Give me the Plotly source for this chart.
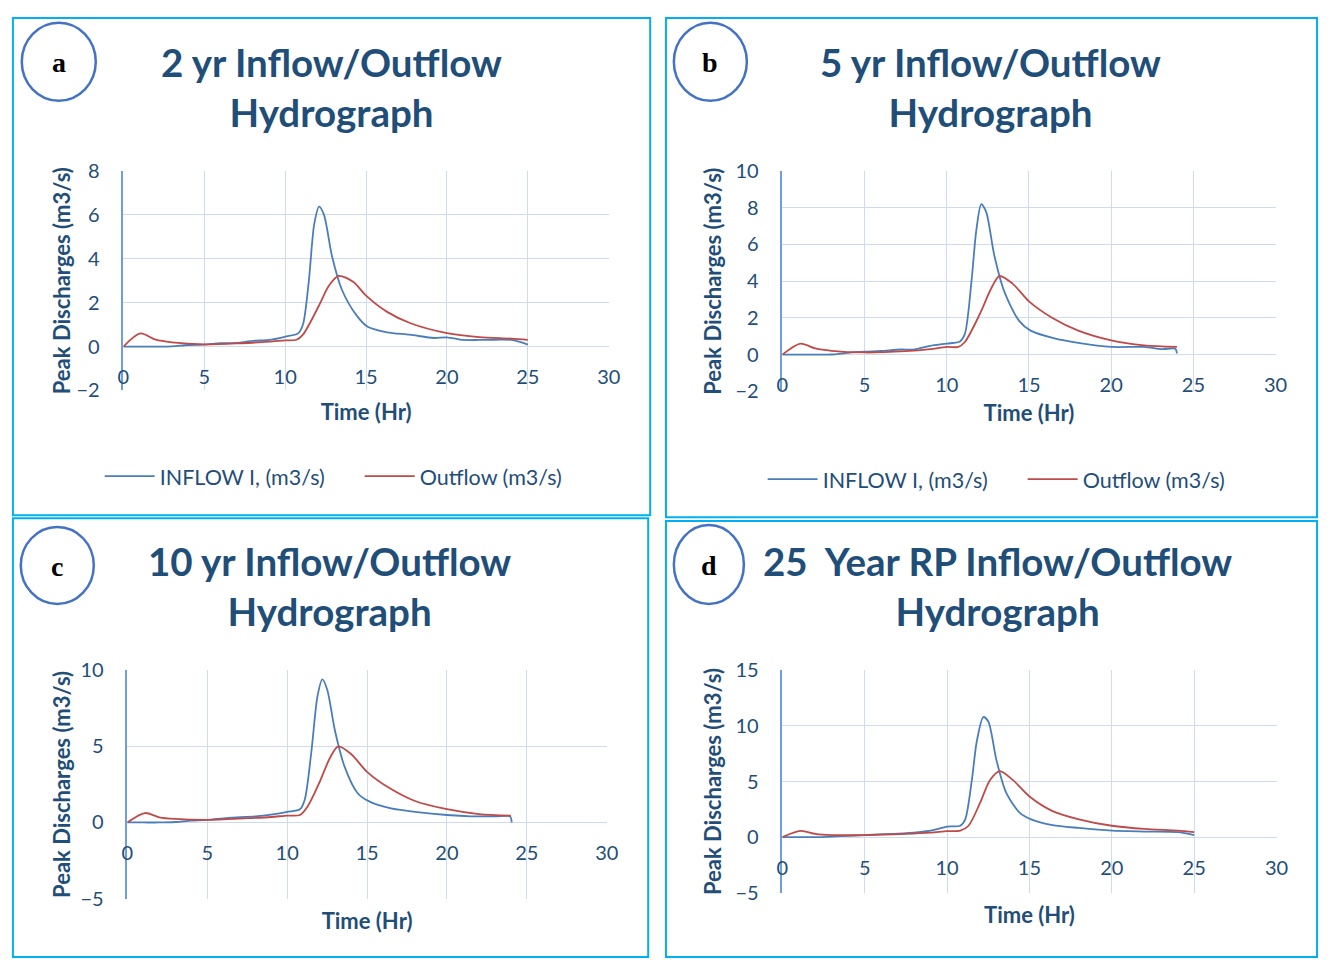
import plotly.graph_objects as go

# ---- hydrograph data (time in hours, discharge in m3/s) ----
T2_IN = [0, 1, 2, 3, 4, 5, 6, 7, 8, 9, 10, 10.8, 11.1, 11.45, 11.8, 12.1, 12.4, 12.9, 13.5, 14.4,
         15.1, 16.3, 17.7, 19.2, 20, 21, 22, 23, 24, 25]
Q2_IN = [0, 0, 0, 0.01, 0.07, 0.09, 0.15, 0.17, 0.26, 0.3, 0.45, 0.6, 1.0, 2.9, 5.6, 6.38, 6.0, 4.1,
         2.6, 1.43, 0.9, 0.65, 0.54, 0.39, 0.42, 0.3, 0.3, 0.31, 0.3, 0.09]
T2_OUT = [0, 1.05, 2, 3, 5, 7.25, 9, 10, 10.7, 11.1, 12.1, 12.7, 13.3, 14.2, 15, 16.3, 17.75, 20, 22, 24, 25]
Q2_OUT = [0, 0.6, 0.31, 0.19, 0.1, 0.15, 0.22, 0.28, 0.31, 0.54, 1.88, 2.77, 3.22, 2.95, 2.32, 1.58,
          1.06, 0.61, 0.43, 0.36, 0.3]

T5_IN = [0, 1, 2, 3, 4, 5, 6, 7.2, 8, 9, 10, 10.8, 11.1, 11.5, 11.8, 12.1, 12.4, 12.9, 13.5, 14.4,
         15.1, 16.5, 18, 20, 22, 23.1, 23.9, 24]
Q5_IN = [0, 0, 0, 0.01, 0.1, 0.16, 0.2, 0.28, 0.28, 0.48, 0.6, 0.72, 1.13, 3.96, 6.8, 8.2, 7.76, 5.37,
         3.43, 1.84, 1.31, 0.9, 0.64, 0.42, 0.42, 0.3, 0.32, 0.07]
T5_OUT = [0, 1.1, 2, 3, 5, 7.5, 9, 10, 10.7, 11.1, 12, 12.7, 13.2, 14, 15, 16.4, 18, 20, 22, 24]
Q5_OUT = [0, 0.6, 0.34, 0.21, 0.12, 0.19, 0.3, 0.42, 0.42, 0.69, 2.19, 3.6, 4.28, 3.87, 2.9, 2.01,
          1.31, 0.78, 0.51, 0.42]

T10_IN = [0, 1, 2, 3, 4, 5, 6.3, 8, 9, 10, 10.8, 11.1, 11.5, 11.9, 12.2, 12.5, 13, 13.6, 14.4, 15.1,
          16.5, 18, 20, 21.5, 23, 23.95, 24.05]
Q10_IN = [0, 0, 0, 0.03, 0.12, 0.17, 0.3, 0.4, 0.52, 0.7, 0.87, 1.5, 4.5, 8.3, 9.4, 8.76, 6.0, 3.65,
          1.94, 1.4, 0.92, 0.7, 0.49, 0.4, 0.4, 0.4, 0.0]
T10_OUT = [0, 1.1, 2, 3, 5, 7.5, 9, 10, 10.8, 11.3, 12, 12.7, 13.2, 14, 15, 16.4, 18, 20, 22, 24]
Q10_OUT = [0, 0.62, 0.34, 0.23, 0.17, 0.28, 0.36, 0.45, 0.49, 1.09, 2.58, 4.29, 5.0, 4.5, 3.33, 2.26,
           1.41, 0.87, 0.55, 0.45]

T25_IN = [0, 1, 2, 3, 4, 5, 7.5, 9, 10, 10.8, 11.1, 11.5, 11.8, 12.2, 12.5, 13, 13.6, 14.4, 15.1,
          16.4, 18, 20, 22, 24, 25]
Q25_IN = [0, 0, 0, 0.05, 0.12, 0.18, 0.35, 0.58, 0.94, 1.02, 1.6, 5.1, 8.6, 10.8, 10.4, 6.9, 3.95,
          2.2, 1.6, 1.08, 0.82, 0.58, 0.5, 0.44, 0.18]
T25_OUT = [0, 1.1, 2, 3, 5, 7.5, 9, 10, 10.8, 11.3, 12, 12.6, 13.2, 14, 15, 16.4, 18, 20, 22, 24, 25]
Q25_OUT = [0, 0.56, 0.29, 0.18, 0.18, 0.29, 0.4, 0.53, 0.58, 1.02, 3.07, 5.12, 5.94, 5.12, 3.65,
           2.34, 1.6, 1.02, 0.73, 0.58, 0.44]

PANEL_LETTERS = ["a", "b", "c", "d"]
PANEL_TITLES = ["2 yr Inflow/Outflow<br>Hydrograph",
                "5 yr Inflow/Outflow<br>Hydrograph",
                "10 yr Inflow/Outflow<br>Hydrograph",
                "25  Year RP Inflow/Outflow<br>Hydrograph"]
Y_RANGES = [(-2, 8, 2), (-2, 10, 2), (-5, 10, 5), (-5, 15, 5)]
X_RANGE = (0, 30, 5)
INFLOW_NAME = "INFLOW I, (m3/s)"
OUTFLOW_NAME = "Outflow (m3/s)"
X_TITLE = "Time (Hr)"
Y_TITLE = "Peak Discharges (m3/s)"

SERIES = [(T2_IN, Q2_IN, T2_OUT, Q2_OUT),
          (T5_IN, Q5_IN, T5_OUT, Q5_OUT),
          (T10_IN, Q10_IN, T10_OUT, Q10_OUT),
          (T25_IN, Q25_IN, T25_OUT, Q25_OUT)]

# ---- page geometry (pixels) ----
W, H = 1331, 970
PLOT_BOXES = [(119, 611, 162, 387), (787, 1287, 162, 388),
              (123, 609, 674, 908), (787, 1288, 674, 902)]
FRAMES = [(7, 653, 5, 515), (669, 1329, 5, 517), (7, 651, 518, 968), (669, 1329, 521, 968)]
CIRCLES = [(16, 91, 10, 90), (677, 751, 10, 90), (15, 89, 527, 606), (677, 748, 525, 606)]
TITLE_POS = [(330, 76), (998, 76), (328, 588), (1005, 588)]
LEGEND_POS = [(101, 475), (773, 478)]
Y_TITLE_STANDOFF = [0, 8, 4, 8]

BLUE = "#4a7ebb"
RED = "#be4b48"
NAVY = "#1f4e79"
GRID = "#cfdbef"
AXIS = "#6f9fd8"
FRAME = "#00b0f0"
FONT = "Lato"


def px(x):
    return x / W


def py(y):
    return 1 - y / H


fig = go.Figure()
layout = dict(width=W, height=H, margin=dict(l=0, r=0, t=0, b=0),
              paper_bgcolor="white", plot_bgcolor="white", showlegend=True,
              shapes=[], annotations=[])

for i in range(4):
    n = "" if i == 0 else str(i + 1)
    t_in, q_in, t_out, q_out = SERIES[i]
    legend_id = "legend" if i == 0 else ("legend2" if i == 1 else None)
    for t, q, name, color in ((t_in, q_in, INFLOW_NAME, BLUE), (t_out, q_out, OUTFLOW_NAME, RED)):
        tr = dict(x=t, y=q, name=name, mode="lines",
                  line=dict(color=color, width=1.8, shape="spline", smoothing=0.8),
                  xaxis="x" + n, yaxis="y" + n, hoverinfo="skip")
        if legend_id:
            tr["legend"] = legend_id
        else:
            tr["showlegend"] = False
        fig.add_trace(go.Scatter(**tr))

    x0, x1, y0, y1 = PLOT_BOXES[i]
    ymin, ymax, ystep = Y_RANGES[i]
    ydom = [py(y1), py(y0)]
    # horizontal axis labels sit just under the zero line
    zero = ydom[0] + (0 - ymin) / (ymax - ymin) * (ydom[1] - ydom[0])
    zero_px = y0 + (ymax - 0) / (ymax - ymin) * (y1 - y0)
    # axis title stays a fixed distance under the plot area
    x_title_standoff = (y1 - zero_px) - 28
    layout["xaxis" + n] = dict(
        domain=[px(x0), px(x1)], range=[X_RANGE[0], X_RANGE[1]], dtick=X_RANGE[2],
        anchor="free", position=zero - 17 / H,
        showgrid=True, gridcolor=GRID, gridwidth=1.3, zeroline=False, showline=False,
        tickfont=dict(family=FONT, size=20, color=NAVY), ticks="",
        title=dict(text="<b>" + X_TITLE + "</b>", font=dict(family=FONT, size=22, color=NAVY),
                   standoff=x_title_standoff),
        fixedrange=True)
    layout["yaxis" + n] = dict(
        domain=ydom, range=[ymin, ymax], dtick=ystep, anchor="x" + n,
        showgrid=True, gridcolor=GRID, gridwidth=1.3, zeroline=False,
        showline=True, linecolor=AXIS, linewidth=1.5,
        tickfont=dict(family=FONT, size=20, color=NAVY), ticks="", ticklabelstandoff=18,
        title=dict(text="<b>" + Y_TITLE + "</b>", font=dict(family=FONT, size=22, color=NAVY),
                   standoff=Y_TITLE_STANDOFF[i]),
        fixedrange=True)

    fx0, fx1, fy0, fy1 = FRAMES[i]
    layout["shapes"].append(dict(type="rect", xref="paper", yref="paper",
                                 x0=px(fx0), x1=px(fx1), y0=py(fy1), y1=py(fy0),
                                 line=dict(color=FRAME, width=2), layer="above"))
    cx0, cx1, cy0, cy1 = CIRCLES[i]
    layout["shapes"].append(dict(type="circle", xref="paper", yref="paper",
                                 x0=px(cx0), x1=px(cx1), y0=py(cy1), y1=py(cy0),
                                 line=dict(color="#4472c4", width=2.5)))
    layout["annotations"].append(dict(
        text="<b>" + PANEL_LETTERS[i] + "</b>", xref="paper", yref="paper",
        x=px((cx0 + cx1) / 2), y=py((cy0 + cy1) / 2 + 1), showarrow=False,
        font=dict(family="Liberation Serif", size=28, color="black"),
        xanchor="center", yanchor="middle"))
    tx, ty = TITLE_POS[i]
    layout["annotations"].append(dict(
        text="<b>" + PANEL_TITLES[i] + "</b>", xref="paper", yref="paper",
        x=px(tx), y=py(ty), showarrow=False, align="center",
        font=dict(family=FONT, size=38.5, color=NAVY),
        xanchor="center", yanchor="middle"))

for k, (lx, ly) in enumerate(LEGEND_POS):
    key = "legend" if k == 0 else "legend2"
    layout[key] = dict(orientation="h", x=px(lx - 6), y=py(ly), xanchor="left", yanchor="middle",
                       font=dict(family=FONT, size=21.5, color=NAVY), bgcolor="rgba(0,0,0,0)",
                       entrywidth=195, entrywidthmode="pixels", itemwidth=50)

fig.update_layout(**layout)
fig.write_html("out.html", post_script="document.body.style.margin = '0';")
